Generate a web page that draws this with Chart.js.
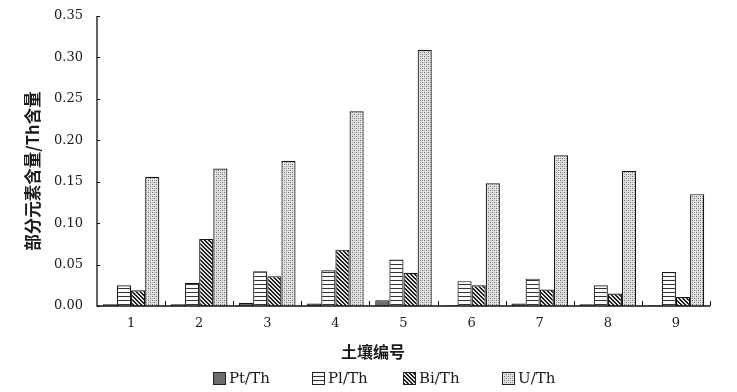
<!DOCTYPE html>
<html><head><meta charset="utf-8">
<script src="https://cdn.jsdelivr.net/npm/chart.js@4.4.1/dist/chart.umd.min.js"></script>
<style>html,body{margin:0;padding:0;background:#fff}#wrap{width:737px;height:392px;position:relative}</style>
</head><body><div id="wrap"><canvas id="c"></canvas></div>
<script>
const categories = ['1','2','3','4','5','6','7','8','9'];
const seriesNames = ['Pt/Th','Pl/Th','Bi/Th','U/Th'];
const ptTh = [0.002,0.002,0.004,0.003,0.007,0.001,0.003,0.002,0.001];
const plTh = [0.025,0.028,0.042,0.043,0.056,0.030,0.033,0.025,0.041];
const biTh = [0.019,0.081,0.036,0.068,0.040,0.025,0.020,0.015,0.011];
const uTh  = [0.156,0.166,0.175,0.235,0.309,0.148,0.182,0.163,0.135];
const yTickValues = [0,0.05,0.10,0.15,0.20,0.25,0.30,0.35];
const xTitle = '土壤编号';
const yTitle = '部分元素含量/Th含量';

function makePattern(w,h,draw){
  const c=document.createElement('canvas');c.width=w;c.height=h;
  const g=c.getContext('2d');draw(g,w,h);return g.createPattern(c,'repeat');
}
const patPt='#6c6c6c';
const patPl=makePattern(4,4,(g,w,h)=>{g.fillStyle='#fafafa';g.fillRect(0,0,w,h);g.fillStyle='#333';g.fillRect(0,0,w,1);});
const patBi=makePattern(4,4,(g,w,h)=>{g.fillStyle='#e4e4e4';g.fillRect(0,0,w,h);g.fillStyle='#1e1e1e';
  for(let i=0;i<4;i++){g.fillRect(i,i,1,1);g.fillRect((i+1)%4,i,1,1);} });
const patU=makePattern(4,4,(g,w,h)=>{g.fillStyle='#e2e2e2';g.fillRect(0,0,w,h);g.fillStyle='#6e6e6e';
  g.fillRect(0,0,1,1);g.fillRect(2,2,1,1);g.fillStyle='#a8a8a8';g.fillRect(2,0,1,1);g.fillRect(0,2,1,1);});
const fills=[patPt,patPl,patBi,patU];
const values=[ptTh,plTh,biTh,uTh];

const serif='"DejaVu Serif", serif';
const cjk='"Noto Sans CJK SC", sans-serif';

const extras={
  id:'extras',
  afterDraw(chart){
    const g=chart.ctx, ca=chart.chartArea, xs=chart.scales.x, ys=chart.scales.y;
    g.save();
    g.strokeStyle='#111';g.lineWidth=1.3;
    g.beginPath();g.moveTo(ca.left,ca.top);g.lineTo(ca.left,ca.bottom);g.lineTo(ca.right,ca.bottom);g.stroke();
    g.lineWidth=1;
    ys.ticks.forEach(t=>{const y=Math.round(ys.getPixelForValue(t.value))+0.5;g.beginPath();g.moveTo(ca.left,y);g.lineTo(ca.left+3,y);g.stroke();});
    const step=xs.getPixelForValue(1)-xs.getPixelForValue(0);
    for(let i=0;i<categories.length;i++){
      const x=Math.round(xs.getPixelForValue(i)+step/2)+0.5;
      g.beginPath();g.moveTo(x,ca.bottom);g.lineTo(x,ca.bottom-5);g.stroke();
    }
    g.fillStyle='#1a1a1a';g.font='bold 16px '+cjk;g.textAlign='center';g.textBaseline='middle';
    g.fillText(xTitle,373,352);
    g.save();g.translate(33,171);g.rotate(-Math.PI/2);g.font='bold 16.5px '+cjk;g.fillText(yTitle,0,0);g.restore();
    const items=[[213,seriesNames[0]],[312,seriesNames[1]],[403,seriesNames[2]],[502,seriesNames[3]]];
    g.font='15px '+serif;g.textAlign='left';
    items.forEach(([x,txt],i)=>{
      g.fillStyle=fills[i];g.fillRect(x,372,12,12);
      g.strokeStyle='#222';g.lineWidth=1;g.strokeRect(x+0.5,372.5,12,12);
      g.fillStyle='#1a1a1a';g.fillText(txt,x+16,379);
    });
    g.restore();
  }
};

new Chart(document.getElementById('c'),{
  type:'bar',
  data:{labels:categories,datasets:seriesNames.map((n,i)=>({label:n,data:values[i],backgroundColor:fills[i],borderColor:'#151515',borderWidth:1.2,borderSkipped:'bottom'}))},
  options:{
    responsive:true,maintainAspectRatio:false,animation:false,
    layout:{padding:{top:16,right:27,bottom:56,left:0}},
    datasets:{bar:{categoryPercentage:0.83,barPercentage:1}},
    plugins:{legend:{display:false},tooltip:{enabled:false}},
    scales:{
      x:{grid:{display:false,drawTicks:false},border:{display:false},
         ticks:{color:'#1a1a1a',font:{family:serif,size:13},padding:10},
         afterFit(s){s.height=30;s.paddingLeft=0;s.paddingRight=0;}},
      y:{min:0,max:0.35,grid:{display:false,drawTicks:false},border:{display:false},
         afterBuildTicks(s){s.ticks=yTickValues.map(v=>({value:v}));},
         ticks:{color:'#1a1a1a',font:{family:serif,size:13},padding:14,callback:v=>Number(v).toFixed(2)},
         afterFit(s){s.width=97;s.paddingTop=0;s.paddingBottom=0;}}
    }
  },
  plugins:[extras]
});
</script></body></html>
